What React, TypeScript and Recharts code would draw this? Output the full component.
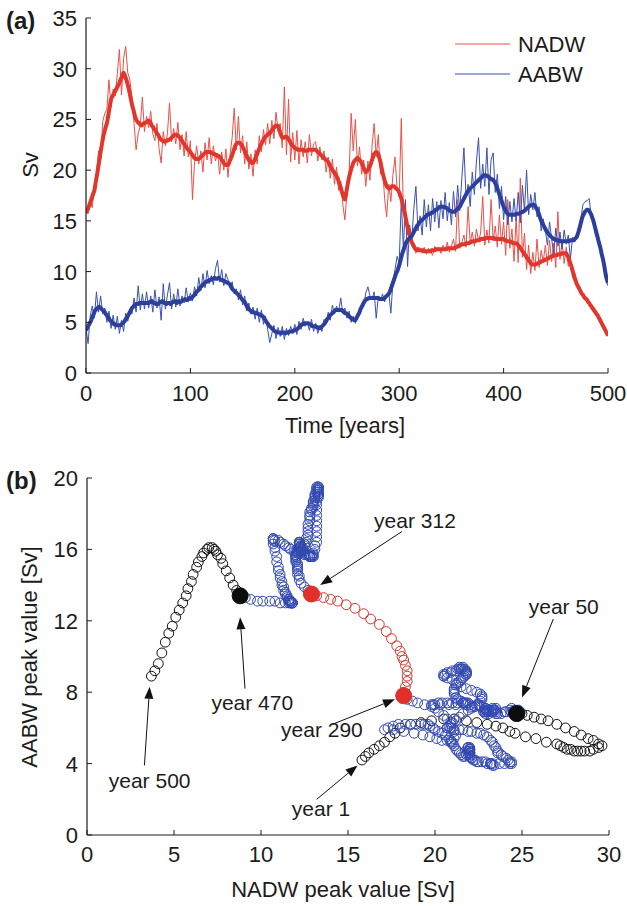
import React from 'react';
import {
  LineChart,
  Line,
  ScatterChart,
  Scatter,
  XAxis,
  YAxis,
  ReferenceLine,
  ReferenceDot,
} from 'recharts';

// raw annual peaks are sampled every 2 years, the smoothed curves every year
const rawYears = Array.from({ length: 251 }, (_, i) => i * 2);
const smoothYears = Array.from({ length: 501 }, (_, i) => i);

const nadwSmooth = [
  15.8, 16.0, 16.2, 16.5, 16.8, 17.1, 17.4, 17.7, 18.0, 18.6, 19.2, 19.8, 20.5, 21.1, 21.8, 22.4, 23.0, 23.5, 23.9, 24.3,
  24.6, 25.2, 25.8, 26.4, 27.0, 27.2, 27.4, 27.6, 27.8, 28.0, 28.2, 28.4, 28.6, 28.9, 29.1, 29.4, 29.6, 29.4, 29.1, 28.8,
  28.4, 28.0, 27.5, 27.0, 26.5, 26.1, 25.7, 25.3, 25.0, 24.8, 24.7, 24.6, 24.5, 24.4, 24.5, 24.6, 24.6, 24.7, 24.7, 24.8,
  24.9, 24.8, 24.6, 24.4, 24.3, 24.1, 24.0, 23.8, 23.6, 23.5, 23.3, 23.1, 23.0, 22.9, 22.9, 22.8, 22.8, 22.9, 22.9, 23.0,
  23.0, 23.1, 23.2, 23.3, 23.4, 23.5, 23.5, 23.5, 23.4, 23.3, 23.2, 23.0, 22.9, 22.7, 22.6, 22.4, 22.3, 22.1, 22.0, 21.9,
  21.8, 21.6, 21.5, 21.3, 21.2, 21.1, 21.1, 21.1, 21.1, 21.2, 21.3, 21.4, 21.5, 21.6, 21.7, 21.8, 21.8, 21.8, 21.8, 21.8,
  21.7, 21.7, 21.6, 21.6, 21.5, 21.5, 21.4, 21.4, 21.3, 21.2, 21.0, 20.9, 20.7, 20.6, 20.5, 20.5, 20.5, 20.7, 21.0, 21.2,
  21.5, 21.8, 22.1, 22.4, 22.6, 22.7, 22.7, 22.7, 22.6, 22.5, 22.3, 22.1, 21.9, 21.6, 21.4, 21.2, 21.0, 20.9, 20.8, 20.7,
  20.7, 20.9, 21.1, 21.4, 21.6, 21.9, 22.1, 22.4, 22.6, 22.8, 23.0, 23.2, 23.3, 23.4, 23.5, 23.6, 23.6, 23.8, 23.9, 24.1,
  24.2, 24.3, 24.4, 24.4, 24.3, 24.0, 23.7, 23.4, 23.2, 23.2, 23.2, 23.3, 23.3, 23.2, 23.0, 22.9, 22.7, 22.5, 22.4, 22.3,
  22.2, 22.1, 22.1, 22.0, 22.0, 22.0, 22.0, 22.0, 22.0, 21.9, 21.9, 21.9, 21.9, 22.0, 22.0, 22.0, 22.0, 22.0, 22.0, 22.0,
  22.0, 21.9, 21.8, 21.7, 21.6, 21.5, 21.4, 21.3, 21.2, 21.1, 21.0, 20.9, 20.8, 20.6, 20.4, 20.2, 20.0, 19.9, 19.7, 19.6,
  19.4, 19.2, 18.9, 18.6, 18.3, 17.9, 17.6, 17.3, 17.1, 17.6, 18.2, 18.8, 19.3, 19.7, 20.1, 20.4, 20.7, 20.9, 21.0, 21.1,
  21.2, 21.1, 21.0, 20.9, 20.7, 20.5, 20.2, 20.0, 19.8, 19.9, 20.0, 20.2, 20.4, 20.7, 21.0, 21.3, 21.6, 21.7, 21.8, 21.7,
  21.6, 21.2, 20.8, 20.3, 19.8, 19.4, 19.0, 18.7, 18.4, 18.3, 18.2, 18.2, 18.3, 18.4, 18.4, 18.4, 18.3, 18.2, 18.1, 18.0,
  17.8, 17.5, 17.2, 16.8, 16.3, 15.9, 15.4, 14.9, 14.4, 14.0, 13.6, 13.2, 12.9, 12.7, 12.5, 12.3, 12.2, 12.2, 12.1, 12.1,
  12.1, 12.1, 12.1, 12.1, 12.0, 12.0, 12.0, 12.0, 12.0, 12.0, 12.0, 12.1, 12.1, 12.1, 12.1, 12.2, 12.2, 12.2, 12.2, 12.2,
  12.2, 12.2, 12.2, 12.2, 12.2, 12.2, 12.3, 12.3, 12.3, 12.3, 12.3, 12.3, 12.3, 12.3, 12.4, 12.4, 12.5, 12.5, 12.6, 12.6,
  12.7, 12.7, 12.7, 12.7, 12.8, 12.8, 12.8, 12.8, 12.9, 12.9, 13.0, 13.0, 13.0, 13.0, 13.1, 13.1, 13.1, 13.1, 13.2, 13.2,
  13.2, 13.2, 13.3, 13.3, 13.3, 13.3, 13.3, 13.3, 13.3, 13.3, 13.3, 13.3, 13.2, 13.2, 13.2, 13.2, 13.2, 13.2, 13.2, 13.2,
  13.2, 13.1, 13.1, 13.0, 13.0, 13.0, 13.0, 12.9, 12.9, 12.8, 12.8, 12.8, 12.8, 12.7, 12.6, 12.5, 12.3, 12.2, 12.0, 11.9,
  11.7, 11.6, 11.4, 11.3, 11.1, 11.0, 10.8, 10.7, 10.7, 10.7, 10.7, 10.7, 10.8, 10.8, 10.9, 10.9, 11.0, 11.0, 11.1, 11.1,
  11.2, 11.2, 11.3, 11.3, 11.4, 11.4, 11.5, 11.5, 11.6, 11.6, 11.6, 11.6, 11.7, 11.7, 11.7, 11.7, 11.8, 11.8, 11.8, 11.8,
  11.8, 11.6, 11.4, 11.1, 10.8, 10.5, 10.1, 9.8, 9.4, 9.1, 8.8, 8.6, 8.4, 8.2, 8.0, 7.8, 7.7, 7.5, 7.4, 7.3,
  7.2, 7.0, 6.9, 6.7, 6.6, 6.4, 6.3, 6.1, 6.0, 5.8, 5.7, 5.5, 5.3, 5.1, 4.9, 4.7, 4.5, 4.3, 4.1, 3.9,
  3.7,
];

const aabwSmooth = [
  4.2, 4.4, 4.6, 4.8, 5.0, 5.2, 5.5, 5.7, 6.0, 6.2, 6.3, 6.4, 6.5, 6.5, 6.4, 6.3, 6.2, 6.1, 6.0, 5.8,
  5.7, 5.5, 5.4, 5.2, 5.1, 5.0, 4.9, 4.8, 4.8, 4.7, 4.7, 4.7, 4.7, 4.7, 4.8, 4.9, 5.0, 5.1, 5.3, 5.4,
  5.6, 5.8, 6.0, 6.2, 6.4, 6.5, 6.6, 6.7, 6.8, 6.8, 6.8, 6.9, 6.9, 6.9, 6.9, 6.9, 6.9, 6.9, 6.9, 6.9,
  6.9, 7.0, 7.0, 7.1, 7.0, 6.9, 6.9, 6.8, 6.8, 6.8, 6.9, 7.0, 7.0, 7.1, 7.0, 6.9, 6.9, 6.8, 6.9, 6.9,
  6.9, 6.8, 6.9, 7.0, 7.0, 7.1, 7.0, 6.9, 7.0, 7.1, 7.0, 7.0, 7.1, 7.2, 7.2, 7.3, 7.2, 7.2, 7.3, 7.4,
  7.3, 7.4, 7.5, 7.6, 7.7, 7.9, 8.0, 8.1, 8.2, 8.4, 8.5, 8.6, 8.7, 8.8, 8.9, 9.0, 9.0, 9.1, 9.1, 9.2,
  9.2, 9.3, 9.3, 9.4, 9.3, 9.3, 9.3, 9.4, 9.3, 9.2, 9.2, 9.1, 9.1, 9.0, 9.0, 8.9, 8.9, 8.8, 8.7, 8.5,
  8.3, 8.2, 8.1, 8.0, 7.9, 7.8, 7.7, 7.6, 7.5, 7.3, 7.2, 7.1, 7.0, 6.8, 6.6, 6.4, 6.3, 6.2, 6.1, 6.0,
  6.0, 6.0, 5.9, 5.9, 5.9, 5.8, 5.8, 5.7, 5.7, 5.6, 5.5, 5.3, 5.2, 5.0, 4.9, 4.7, 4.6, 4.5, 4.4, 4.3,
  4.2, 4.1, 4.1, 4.0, 4.0, 4.0, 4.0, 3.9, 4.0, 4.0, 4.0, 3.9, 4.0, 4.0, 4.0, 4.1, 4.1, 4.1, 4.1, 4.2,
  4.2, 4.3, 4.3, 4.4, 4.5, 4.6, 4.7, 4.8, 4.8, 4.9, 4.9, 4.9, 4.9, 4.9, 4.8, 4.8, 4.7, 4.6, 4.6, 4.6,
  4.6, 4.5, 4.5, 4.4, 4.4, 4.5, 4.6, 4.7, 4.8, 5.0, 5.1, 5.3, 5.4, 5.6, 5.7, 5.8, 5.9, 6.0, 6.1, 6.2,
  6.2, 6.2, 6.2, 6.2, 6.2, 6.2, 6.1, 6.0, 5.9, 5.9, 5.8, 5.7, 5.6, 5.5, 5.4, 5.3, 5.3, 5.2, 5.2, 5.4,
  5.6, 5.8, 6.0, 6.3, 6.5, 6.7, 6.9, 7.1, 7.2, 7.3, 7.3, 7.4, 7.4, 7.4, 7.4, 7.4, 7.4, 7.4, 7.4, 7.4,
  7.4, 7.3, 7.3, 7.3, 7.3, 7.3, 7.4, 7.5, 7.6, 7.7, 7.8, 8.0, 8.3, 8.6, 8.9, 9.2, 9.5, 9.8, 10.0, 10.3,
  10.6, 11.0, 11.4, 11.8, 12.1, 12.4, 12.7, 12.9, 13.1, 13.2, 13.3, 13.4, 13.5, 13.7, 13.9, 14.1, 14.3, 14.5, 14.6, 14.8,
  14.9, 15.0, 15.1, 15.2, 15.3, 15.4, 15.5, 15.6, 15.6, 15.7, 15.7, 15.8, 15.8, 15.9, 16.0, 16.1, 16.1, 16.2, 16.3, 16.4,
  16.4, 16.4, 16.4, 16.4, 16.3, 16.3, 16.2, 16.1, 16.0, 16.0, 15.9, 15.9, 15.9, 15.9, 16.0, 16.1, 16.2, 16.3, 16.4, 16.6,
  16.8, 17.0, 17.2, 17.4, 17.6, 17.8, 17.9, 18.1, 18.2, 18.3, 18.4, 18.5, 18.6, 18.7, 18.8, 18.9, 19.0, 19.1, 19.2, 19.3,
  19.4, 19.5, 19.5, 19.5, 19.4, 19.4, 19.3, 19.2, 19.1, 19.1, 19.0, 18.9, 18.7, 18.5, 18.2, 17.9, 17.6, 17.3, 17.0, 16.7,
  16.4, 16.2, 16.0, 15.8, 15.7, 15.6, 15.6, 15.6, 15.6, 15.6, 15.6, 15.6, 15.7, 15.7, 15.7, 15.7, 15.8, 15.8, 15.9, 15.9,
  16.0, 16.1, 16.2, 16.3, 16.4, 16.5, 16.5, 16.6, 16.6, 16.6, 16.5, 16.3, 16.1, 15.9, 15.6, 15.3, 15.0, 14.8, 14.6, 14.4,
  14.2, 14.0, 13.9, 13.7, 13.6, 13.5, 13.4, 13.3, 13.2, 13.2, 13.1, 13.1, 13.1, 13.1, 13.0, 13.0, 13.0, 13.0, 13.0, 13.0,
  13.0, 13.0, 13.0, 13.0, 13.1, 13.1, 13.1, 13.1, 13.2, 13.3, 13.4, 13.7, 14.0, 14.4, 14.8, 15.2, 15.5, 15.7, 15.9, 16.0,
  16.1, 16.1, 16.0, 15.8, 15.6, 15.3, 15.0, 14.6, 14.2, 13.8, 13.4, 13.0, 12.6, 12.2, 11.7, 11.3, 10.8, 10.2, 9.6, 9.2,
  8.9,
];

const nadwRaw = [
  16.0, 15.7, 17.0, 16.3, 18.4, 19.6, 21.9, 21.0, 24.8, 25.6,
  26.0, 28.9, 26.2, 28.0, 27.3, 29.5, 31.9, 27.4, 31.0, 32.2,
  29.6, 28.9, 27.2, 24.6, 22.0, 23.6, 24.4, 27.2, 23.8, 25.3,
  24.2, 25.8, 23.6, 22.9, 24.6, 22.1, 20.7, 23.8, 22.4, 23.6,
  26.6, 22.8, 24.1, 22.6, 24.7, 22.0, 23.5, 21.4, 23.8, 21.3,
  22.9, 17.1, 20.8, 22.4, 20.6, 21.9, 19.8, 22.7, 21.0, 23.2,
  20.6, 22.4, 20.9, 21.7, 19.6, 21.8, 20.0, 22.1, 19.3, 21.6,
  23.2, 26.1, 22.0, 25.3, 21.7, 23.4, 20.6, 22.8, 20.1, 21.6,
  19.4, 22.0, 20.6, 23.4, 21.8, 24.0, 22.5, 24.6, 22.6, 24.9,
  23.1, 25.7, 23.9, 24.6, 22.2, 28.2, 21.5, 27.0, 20.8, 23.7,
  21.0, 23.9, 20.6, 23.0, 21.3, 22.8, 20.7, 23.5, 21.4, 22.6,
  22.8, 20.9, 22.3, 21.0, 21.9, 19.8, 21.3, 19.2, 21.1, 18.6,
  20.3, 18.0, 18.9, 16.6, 15.1, 17.8, 19.6, 25.6, 21.9, 25.0,
  20.4, 22.3, 19.6, 21.0, 18.4, 20.9, 19.0, 22.4, 24.6, 21.3,
  23.5, 19.6, 20.5, 17.2, 15.4, 18.6, 16.9, 19.5, 21.3, 18.2,
  17.4, 25.1, 15.9, 15.2, 13.6, 14.3, 12.5, 12.8, 11.8, 12.4,
  12.3, 11.8, 12.4, 11.7, 12.3, 12.0, 11.6, 12.5, 12.0, 12.4,
  11.8, 12.6, 12.1, 12.9, 11.9, 12.5, 13.2, 12.0, 17.1, 12.3,
  12.9, 13.6, 12.4, 16.4, 12.8, 13.9, 12.5, 14.2, 13.0, 13.8,
  17.4, 12.6, 14.1, 12.8, 17.1, 13.0, 14.5, 12.4, 15.6, 12.7,
  14.9, 11.6, 17.1, 12.3, 14.2, 11.0, 15.3, 10.9, 19.2, 11.4,
  13.8, 10.2, 12.6, 9.8, 11.9, 10.1, 13.2, 10.4, 12.1, 11.0,
  12.6, 10.6, 13.1, 11.0, 12.8, 10.4, 15.9, 11.2, 13.0, 10.8,
  12.4, 10.5, 11.2, 9.4, 9.6, 8.7, 8.5, 7.9, 7.8, 7.3,
  7.3, 6.8, 6.7, 6.2, 6.0, 5.8, 5.2, 4.9, 4.4, 4.1,
  3.6,
];

const aabwRaw = [
  4.4, 2.9, 5.6, 6.6, 5.4, 8.0, 6.0, 7.6, 5.8, 6.4,
  5.0, 6.1, 4.4, 5.7, 4.3, 5.6, 3.9, 5.2, 4.1, 5.9,
  5.1, 6.3, 5.8, 7.4, 6.0, 8.6, 6.2, 7.8, 6.3, 8.0,
  6.4, 7.6, 6.0, 8.2, 6.4, 7.5, 5.2, 8.8, 6.3, 7.7,
  8.9, 6.3, 7.8, 6.5, 8.3, 6.6, 7.6, 6.9, 8.4, 7.0,
  7.9, 7.1, 8.5, 7.6, 9.4, 8.1, 9.8, 8.4, 10.1, 8.8,
  9.6, 8.7, 10.3, 11.1, 9.0, 10.2, 8.6, 9.8, 9.2, 8.4,
  9.0, 7.8, 8.3, 7.2, 8.2, 6.7, 7.6, 6.1, 6.9, 5.8,
  6.5, 5.3, 6.4, 5.0, 6.2, 4.8, 5.6, 4.3, 3.0, 3.9,
  4.7, 3.4, 4.5, 3.6, 4.6, 3.3, 4.4, 3.7, 4.6, 3.9,
  4.8, 3.8, 5.1, 4.3, 5.4, 4.6, 5.0, 4.2, 5.3, 4.1,
  4.9, 3.9, 4.7, 4.1, 5.3, 4.8, 6.0, 5.2, 6.7, 5.8,
  6.6, 6.0, 7.4, 5.9, 6.4, 5.4, 6.1, 5.0, 5.6, 4.9,
  5.9, 5.7, 6.9, 6.6, 7.9, 8.5, 7.6, 7.3, 8.0, 5.4,
  7.6, 7.1, 7.8, 7.0, 7.6, 8.0, 5.9, 9.0, 10.2, 11.5,
  10.8, 17.1, 12.2, 17.1, 10.5, 14.6, 13.1, 16.2, 18.4, 14.0,
  15.5, 13.6, 17.1, 14.4, 16.6, 14.0, 17.2, 14.9, 16.9, 14.3,
  17.0, 15.2, 17.8, 15.0, 16.8, 14.6, 17.9, 15.4, 18.5, 16.0,
  19.2, 22.2, 17.4, 18.6, 16.4, 19.8, 17.6, 20.9, 23.2, 18.2,
  20.6, 18.4, 22.2, 17.6, 21.0, 21.7, 17.8, 19.6, 16.2, 18.4,
  15.1, 17.4, 14.6, 16.9, 14.9, 17.2, 15.0, 17.8, 14.8, 18.5,
  16.0, 20.0, 15.6, 17.6, 16.1, 17.8, 15.4, 16.4, 14.0, 15.2,
  14.0, 12.6, 14.9, 13.2, 11.8, 14.3, 12.5, 13.9, 12.2, 14.1,
  12.7, 13.6, 11.2, 13.4, 12.9, 13.3, 14.1, 15.2, 16.6, 16.9,
  17.0, 17.2, 15.4, 14.8, 13.6, 13.2, 12.2, 11.5, 10.4, 9.2,
  8.6,
];

const timeTicks = [0, 100, 200, 300, 400, 500];
const svTicks = [0, 5, 10, 15, 20, 25, 30, 35];
const nadwTicks = [0, 5, 10, 15, 20, 25, 30];
const aabwTicks = [0, 4, 8, 12, 16, 20];

// years that split the phase-space trajectory into coloured pieces
const markerYears = [50, 290, 312, 470];

// annotations in panel (b): label, text centre, arrow tail, arrow tip (data units)
const notes = [
  { text: 'year 312', tx: 18.85, ty: 17.6, x1: 18.1, y1: 17.0, x2: 13.4, y2: 14.0 },
  { text: 'year 50', tx: 27.4, ty: 12.75, x1: 26.8, y1: 12.1, x2: 25.0, y2: 7.7 },
  { text: 'year 470', tx: 9.5, ty: 7.4, x1: 9.08, y1: 8.2, x2: 8.8, y2: 12.2 },
  { text: 'year 500', tx: 3.6, ty: 3.0, x1: 3.3, y1: 3.9, x2: 3.6, y2: 8.3 },
  { text: 'year 290', tx: 13.5, ty: 5.9, x1: 14.1, y1: 6.2, x2: 17.7, y2: 7.6 },
  { text: 'year 1', tx: 13.45, ty: 1.45, x1: 13.2, y1: 2.0, x2: 15.55, y2: 3.9 },
];

const FONT = '"Liberation Sans", Arial, Helvetica, sans-serif';
const INK = '#1c1c1c';
const RED = '#e1362c';
const RED_THIN = '#ea5048';
const BLUE = '#2c3f9d';
const BLUE_THIN = '#3a50b4';

const rawRows = rawYears.map((yr, i) => ({ year: yr, nadwRaw: nadwRaw[i], aabwRaw: aabwRaw[i] }));
const smoothRows = smoothYears.map((yr, i) => ({
  year: yr,
  nadwSmooth: nadwSmooth[i],
  aabwSmooth: aabwSmooth[i],
}));

const phase = smoothYears.map((yr, i) => ({ year: yr, x: nadwSmooth[i], y: aabwSmooth[i] }));
const piece = (a: number, b: number) => phase.filter((p) => p.year >= a && p.year <= b);

const bottomTick = (gap: number) => (props: any) => {
  const { x, y, payload } = props;
  return (
    <g>
      <line x1={x} y1={y} x2={x} y2={y - 5} stroke={INK} />
      <text x={x} y={y + gap} textAnchor="middle" fontSize={22} fontFamily={FONT} fill={INK}>
        {payload.value}
      </text>
    </g>
  );
};

const leftTick = (props: any) => {
  const { x, y, payload } = props;
  return (
    <g>
      <line x1={x} y1={y} x2={x + 5} y2={y} stroke={INK} />
      <text x={x - 9} y={y + 8} textAnchor="end" fontSize={22} fontFamily={FONT} fill={INK}>
        {payload.value}
      </text>
    </g>
  );
};

const topTick = (props: any) => {
  const { x, y } = props;
  return <line x1={x} y1={y} x2={x} y2={y + 5} stroke={INK} />;
};

const rightTick = (props: any) => {
  const { x, y } = props;
  return <line x1={x} y1={y} x2={x - 5} y2={y} stroke={INK} />;
};

const ring = (color: string) => (p: any) =>
  <circle cx={p.cx} cy={p.cy} r={4.9} fill="none" stroke={color} strokeWidth={1} />;

const markerShape = (p: any) => {
  const yr = p.payload.year;
  const color = yr === 290 || yr === 312 ? '#e0302a' : '#0c0c0c';
  return <circle cx={p.cx} cy={p.cy} r={8} fill={color} stroke={color} />;
};

const arrow = (p: any) => {
  const { x1, y1, x2, y2 } = p;
  if ([x1, y1, x2, y2].some((v) => typeof v !== 'number')) return <g />;
  const a = Math.atan2(y2 - y1, x2 - x1);
  const len = 12;
  const w = 4.5;
  const bx = x2 - len * Math.cos(a);
  const by = y2 - len * Math.sin(a);
  const nx = -Math.sin(a) * w;
  const ny = Math.cos(a) * w;
  return (
    <g>
      <line x1={x1} y1={y1} x2={bx} y2={by} stroke="#111" strokeWidth={1} />
      <polygon points={`${x2},${y2} ${bx + nx},${by + ny} ${bx - nx},${by - ny}`} fill="#111" />
    </g>
  );
};

const noteText = (text: string) => (p: any) => (
  <text x={p.cx} y={p.cy + 7} textAnchor="middle" fontSize={21} fontFamily={FONT} fill={INK}>
    {text}
  </text>
);

const axisLine = { stroke: INK, strokeWidth: 1.2 };

const TimeSeries = () => (
  <LineChart width={627} height={420} margin={{ top: 18, right: 19, bottom: 0, left: 0 }}>
    <XAxis dataKey="year" type="number" domain={[0, 500]} ticks={timeTicks} interval={0}
      allowDataOverflow height={47} tickSize={0} tickMargin={0} tickLine={false}
      axisLine={axisLine} tick={bottomTick(28)} />
    <XAxis xAxisId="top" orientation="top" dataKey="year" type="number" domain={[0, 500]}
      ticks={timeTicks} interval={0} allowDataOverflow height={0} tickSize={0} tickMargin={0}
      tickLine={false} axisLine={axisLine} tick={topTick} />
    <YAxis type="number" domain={[0, 35]} ticks={svTicks} interval={0} allowDataOverflow
      width={86} tickSize={0} tickMargin={0} tickLine={false} axisLine={axisLine} tick={leftTick} />
    <YAxis yAxisId="right" orientation="right" type="number" domain={[0, 35]} ticks={svTicks}
      interval={0} allowDataOverflow width={0} tickSize={0} tickMargin={0} tickLine={false}
      axisLine={axisLine} tick={rightTick} />
    <Line data={rawRows} dataKey="nadwRaw" stroke={RED_THIN} strokeWidth={1} dot={false} isAnimationActive={false} />
    <Line data={rawRows} dataKey="aabwRaw" stroke={BLUE_THIN} strokeWidth={1} dot={false} isAnimationActive={false} />
    <Line data={smoothRows} dataKey="nadwSmooth" type="monotone" stroke={RED} strokeWidth={4} dot={false}
      isAnimationActive={false} />
    <Line data={smoothRows} dataKey="aabwSmooth" type="monotone" stroke={BLUE} strokeWidth={4} dot={false}
      isAnimationActive={false} />
  </LineChart>
);

const PhaseSpace = () => (
  <ScatterChart width={627} height={446} margin={{ top: 18, right: 18, bottom: 0, left: 0 }}>
    <XAxis dataKey="x" type="number" domain={[0, 30]} ticks={nadwTicks} interval={0}
      allowDataOverflow height={71} tickSize={0} tickMargin={0} tickLine={false}
      axisLine={axisLine} tick={bottomTick(27)} />
    <XAxis xAxisId="top" orientation="top" dataKey="x" type="number" domain={[0, 30]}
      ticks={nadwTicks} interval={0} allowDataOverflow height={0} tickSize={0} tickMargin={0}
      tickLine={false} axisLine={axisLine} tick={topTick} />
    <YAxis dataKey="y" type="number" domain={[0, 20]} ticks={aabwTicks} interval={0}
      allowDataOverflow width={87} tickSize={0} tickMargin={0} tickLine={false}
      axisLine={axisLine} tick={leftTick} />
    <YAxis yAxisId="right" orientation="right" dataKey="y" type="number" domain={[0, 20]}
      ticks={aabwTicks} interval={0} allowDataOverflow width={0} tickSize={0} tickMargin={0}
      tickLine={false} axisLine={axisLine} tick={rightTick} />
    <Scatter data={piece(0, 50)} shape={ring('#111111')} isAnimationActive={false} />
    <Scatter data={piece(50, 290)} shape={ring('#3048b0')} isAnimationActive={false} />
    <Scatter data={piece(312, 470)} shape={ring('#3048b0')} isAnimationActive={false} />
    <Scatter data={piece(470, 500)} shape={ring('#111111')} isAnimationActive={false} />
    <Scatter data={piece(290, 312)} shape={ring('#d2362f')} isAnimationActive={false} />
    <Scatter data={phase.filter((p) => markerYears.includes(p.year))} shape={markerShape}
      isAnimationActive={false} />
    {notes.map((n) => (
      <ReferenceLine key={n.text + 'a'} segment={[{ x: n.x1, y: n.y1 }, { x: n.x2, y: n.y2 }]}
        shape={arrow} ifOverflow="visible" />
    ))}
    {notes.map((n) => (
      <ReferenceDot key={n.text} x={n.tx} y={n.ty} r={1} shape={noteText(n.text)} ifOverflow="visible" />
    ))}
  </ScatterChart>
);

export default function App() {
  return (
    <div style={{ position: 'absolute', left: 0, top: 0, width: 627, height: 906, background: '#fff' }}>
      <div style={{ position: 'absolute', left: 0, top: 0 }}>
        <TimeSeries />
      </div>
      <div style={{ position: 'absolute', left: 0, top: 460 }}>
        <PhaseSpace />
      </div>
      <svg width={627} height={906} style={{ position: 'absolute', left: 0, top: 0, pointerEvents: 'none' }}
        fontFamily={FONT} fill={INK}>
        <text x={6} y={29} fontSize={24} fontWeight="bold">(a)</text>
        <text x={6} y={489} fontSize={24} fontWeight="bold">(b)</text>
        <text transform="translate(38,165) rotate(-90)" textAnchor="middle" fontSize={22}>Sv</text>
        <text x={345} y={433} textAnchor="middle" fontSize={22}>Time [years]</text>
        <text transform="translate(37,657) rotate(-90)" textAnchor="middle" fontSize={22}>AABW peak value [Sv]</text>
        <text x={343} y={897} textAnchor="middle" fontSize={22}>NADW peak value [Sv]</text>
        <line x1={455} y1={44} x2={510} y2={44} stroke={RED_THIN} strokeWidth={1.2} />
        <text x={518} y={52} fontSize={22}>NADW</text>
        <line x1={455} y1={74} x2={510} y2={74} stroke={BLUE_THIN} strokeWidth={1.2} />
        <text x={518} y={82} fontSize={22}>AABW</text>
      </svg>
    </div>
  );
}
